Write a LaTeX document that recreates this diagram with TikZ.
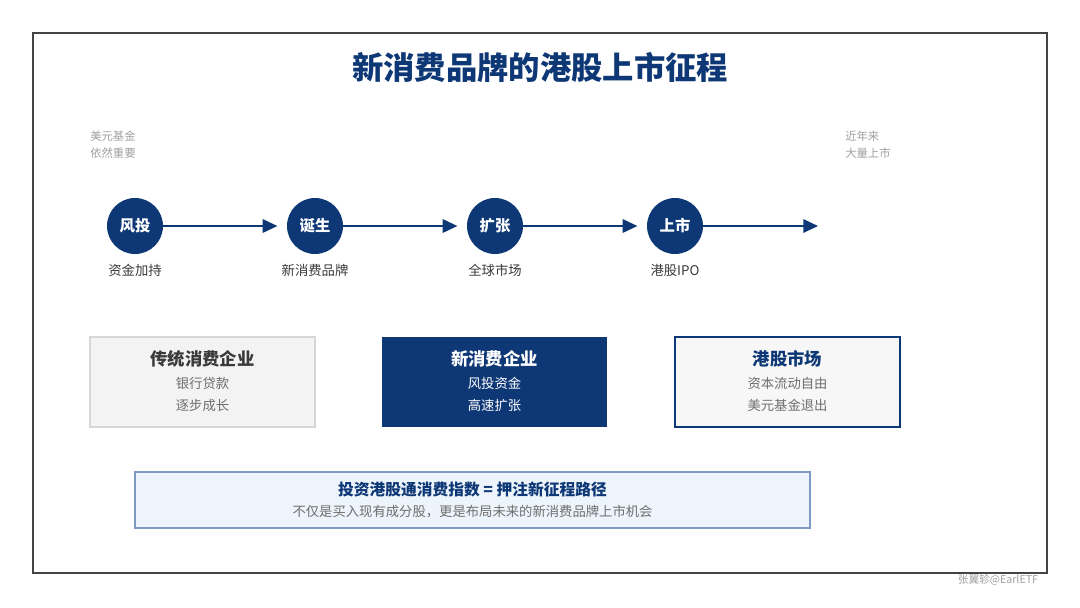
\documentclass[tikz,border=0pt]{standalone}
\usepackage{fontspec}
\setmainfont{Noto Sans CJK SC}
\usetikzlibrary{arrows.meta}
\definecolor{navy}{HTML}{0D3775}
\definecolor{frame}{HTML}{444444}
\definecolor{txtdark}{HTML}{3A3A3A}
\definecolor{txtgray}{HTML}{6E6E6E}
\definecolor{lightgray}{HTML}{A0A0A0}
\definecolor{boxgray}{HTML}{F3F3F3}
\definecolor{boxgrayline}{HTML}{D6D6D6}
\definecolor{boxwhite}{HTML}{F7F7F7}
\definecolor{lightblue}{HTML}{EEF4FC}
\definecolor{lightblueline}{HTML}{7F9BC2}
\tikzset{
  stage/.style={circle, fill=navy, minimum size=56*0.75pt, inner sep=0pt, text=white, font=\fontsize{11.5}{13}\selectfont\bfseries},
  stagelbl/.style={text=txtdark, font=\fontsize{10}{12}\selectfont},
  flow/.style={navy, line width=1.5pt, -{Triangle[length=11pt,width=10pt]}},
  gap/.style={shorten >=7pt},
  note/.style={text=lightgray, font=\fontsize{8.5}{12.6}\selectfont, align=left, anchor=north west, inner sep=0pt},
  ttl/.style={font=\fontsize{13}{15}\selectfont\bfseries},
  sub/.style={font=\fontsize{10}{12}\selectfont},
}
\begin{document}
\begin{tikzpicture}[x=0.75pt,y=-0.75pt]
\useasboundingbox (0,0) rectangle (1080,607);
\fill[white] (0,0) rectangle (1080,607);
\draw[frame, line width=1.6pt] (33,33) rectangle (1047,573);
\node[text=navy, font=\fontsize{23.5}{27}\selectfont\bfseries] (title) at (540,67) {新消费品牌的港股上市征程};

\node[note] (noteL) at (90,131) {美元基金\\依然重要};
\node[note] (noteR) at (845,131) {近年来\\大量上市};

\node[stage] (s1) at (135,226) {风投};
\node[stage] (s2) at (315,226) {诞生};
\node[stage] (s3) at (495,226) {扩张};
\node[stage] (s4) at (675,226) {上市};
\coordinate (end) at (818,226);

\draw[flow, gap] (s1) -- (s2);
\draw[flow, gap] (s2) -- (s3);
\draw[flow, gap] (s3) -- (s4);
\draw[flow] (s4) -- (end);

\node[stagelbl] (l1) at (135,270) {资金加持};
\node[stagelbl] (l2) at (315,270) {新消费品牌};
\node[stagelbl] (l3) at (495,270) {全球市场};
\node[stagelbl] (l4) at (675,270) {港股IPO};

\draw[boxgrayline, fill=boxgray, line width=1pt] (90,337) rectangle (315,427);
\node[ttl, text=txtdark] (b1t) at (202.5,359) {传统消费企业};
\node[sub, text=txtgray] (b1a) at (202.5,383) {银行贷款};
\node[sub, text=txtgray] (b1b) at (202.5,405) {逐步成长};

\fill[navy] (382,337) rectangle (607,427);
\node[ttl, text=white] (b2t) at (494.5,359) {新消费企业};
\node[sub, text=white] (b2a) at (494.5,383) {风投资金};
\node[sub, text=white] (b2b) at (494.5,405) {高速扩张};

\draw[navy, fill=boxwhite, line width=1.6pt] (675,337) rectangle (900,427);
\node[ttl, text=navy] (b3t) at (787.5,359) {港股市场};
\node[sub, text=txtgray] (b3a) at (787.5,383) {资本流动自由};
\node[sub, text=txtgray] (b3b) at (787.5,405) {美元基金退出};

\draw[lightblueline, fill=lightblue, line width=1pt] (135,472) rectangle (810,528);
\node[font=\fontsize{11.8}{14}\selectfont\bfseries, text=navy] (bt) at (472.5,490) {投资港股通消费指数 = 押注新征程路径};
\node[sub, text=txtgray] (bs) at (472.5,512) {不仅是买入现有成分股，更是布局未来的新消费品牌上市机会};

\node[text=lightgray, font=\fontsize{8}{10}\selectfont] (wm) at (998,580) {张翼轸@EarlETF};
\end{tikzpicture}
\end{document}
